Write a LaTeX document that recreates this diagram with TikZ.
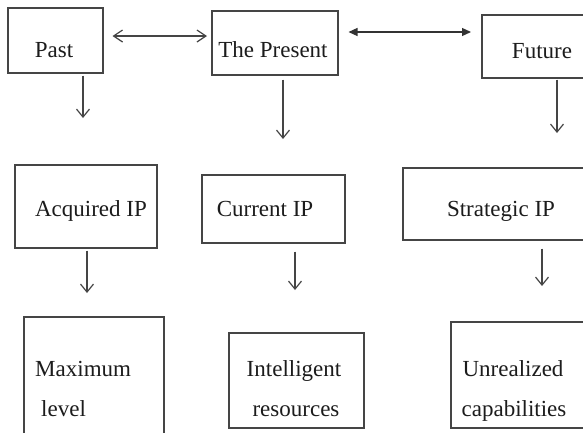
\documentclass[tikz,border=0pt]{standalone}
\usepackage{fontspec}
\setmainfont{Liberation Serif}
\usetikzlibrary{arrows.meta}
\definecolor{ln}{HTML}{454545}
\definecolor{tx}{HTML}{1C1C1C}
\begin{document}
\begin{tikzpicture}[x=1pt,y=-1pt,
  box/.style={draw=ln,line width=1.5pt,inner sep=0pt,anchor=north west,rectangle},
  lbl/.style={text=tx,font=\fontsize{23}{27}\selectfont,inner sep=0pt,anchor=base},
  varr/.style={draw=ln,line width=1.2pt,-{Straight Barb[length=8pt,width=13pt,line width=1.2pt]}},
  harr/.style={draw=ln,line width=1.2pt,{Straight Barb[length=9pt,width=12pt,line width=1.2pt]}-{Straight Barb[length=9pt,width=12pt,line width=1.2pt]}},
  farr/.style={draw=black!80,line width=1.2pt,{Triangle[length=9pt,width=8pt]}-{Triangle[length=9pt,width=8pt]}}]
\clip (0,0) rectangle (583,432);
\fill[white] (0,0) rectangle (583,432);
% boxes
\node[box,minimum width=95pt,minimum height=65pt] (past) at (7,7) {};
\node[box,minimum width=126pt,minimum height=64pt] (pres) at (211,10) {};
\node[box,minimum width=160pt,minimum height=63pt] (fut) at (481,14) {};
\node[box,minimum width=142pt,minimum height=83pt] (acq) at (14,164) {};
\node[box,minimum width=143pt,minimum height=68pt] (cur) at (201,174) {};
\node[box,minimum width=240pt,minimum height=72pt] (str) at (402,167) {};
\node[box,minimum width=140pt,minimum height=160pt] (max) at (23,316) {};
\node[box,minimum width=135pt,minimum height=95pt] (int) at (228,332) {};
\node[box,minimum width=190pt,minimum height=106pt] (unr) at (450,321) {};
% labels
\node[lbl] (tpast) at (54,57) {Past};
\node[lbl] (tpres) at (273,57) {The Present};
\node[lbl] (tfut) at (542,58) {Future};
\node[lbl] (tacq) at (91,216) {Acquired IP};
\node[lbl] (tcur) at (265,216) {Current IP};
\node[lbl] (tstr) at (501,216) {Strategic IP};
\node[lbl,anchor=base west] (tmax1) at (35,376) {Maximum};
\node[lbl,anchor=base west] (tmax2) at (41,416) {level};
\node[lbl] (tint1) at (294,376) {Intelligent};
\node[lbl] (tint2) at (296,416) {resources};
\node[lbl] (tunr1) at (513,376) {Unrealized};
\node[lbl] (tunr2) at (514,416) {capabilities};
% horizontal arrows
\draw[harr] ([xshift=9pt]past.east |- 0,36) -- ([xshift=-4pt]pres.west |- 0,36);
\draw[farr] ([xshift=10pt]pres.east |- 0,32) -- ([xshift=-10pt]fut.west |- 0,32);
% free ends of vertical arrows
\coordinate (e1) at (83,118);
\coordinate (e2) at (283,139);
\coordinate (e3) at (557,133);
\coordinate (e4) at (87,293);
\coordinate (e5) at (295,290);
\coordinate (e6) at (542,286);
\draw[varr] ([yshift=-2pt]past.south -| e1) -- (e1);
\draw[varr] ([yshift=-4pt]pres.south -| e2) -- (e2);
\draw[varr] ([yshift=-1pt]fut.south -| e3) -- (e3);
\draw[varr] ([yshift=-2pt]acq.south -| e4) -- (e4);
\draw[varr] ([yshift=-8pt]cur.south -| e5) -- (e5);
\draw[varr] ([yshift=-8pt]str.south -| e6) -- (e6);
\end{tikzpicture}
\end{document}
